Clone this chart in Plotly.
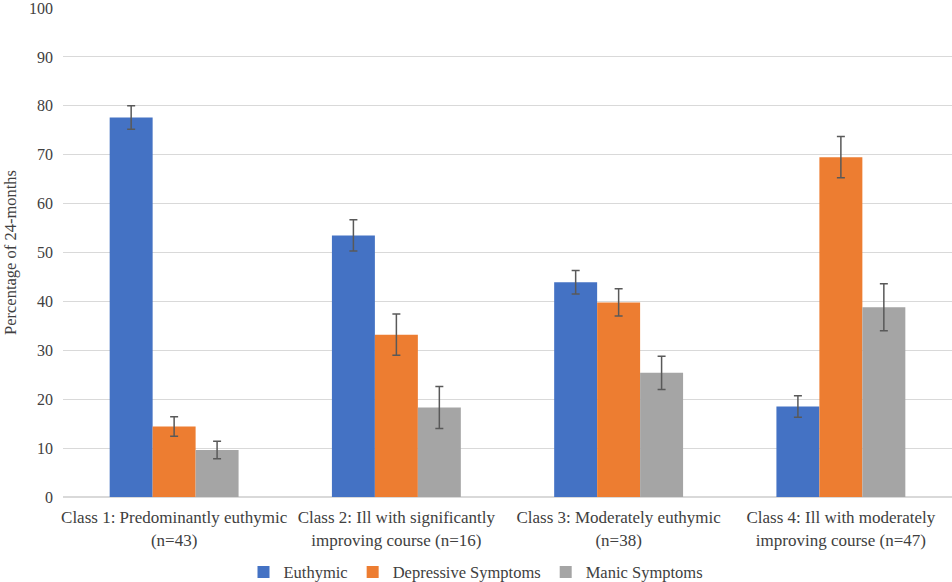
import plotly.graph_objects as go

categories = ["Class 1: Predominantly euthymic<br>(n=43)",
              "Class 2: Ill with significantly<br>improving course (n=16)",
              "Class 3: Moderately euthymic<br>(n=38)",
              "Class 4: Ill with moderately<br>improving course (n=47)"]
series_names = ["Euthymic", "Depressive Symptoms", "Manic Symptoms"]
euthymic = [77.6, 53.5, 43.9, 18.5]
euthymic_err = [2.4, 3.2, 2.4, 2.2]
depressive = [14.4, 33.2, 39.8, 69.5]
depressive_err = [2.0, 4.2, 2.8, 4.2]
manic = [9.6, 18.3, 25.4, 38.8]
manic_err = [1.8, 4.3, 3.4, 4.8]
colors = ["#4472C4", "#ED7D31", "#A5A5A5"]
yticks = list(range(0, 101, 10))

fig = go.Figure()
for name, vals, errs, col in zip(series_names, [euthymic, depressive, manic],
                                 [euthymic_err, depressive_err, manic_err], colors):
    fig.add_trace(go.Bar(
        x=categories, y=vals, name=name,
        marker=dict(color=col, line=dict(width=0)),
        error_y=dict(type="data", array=errs, visible=True, color="#595959",
                     thickness=1.5, width=4),
    ))

ff = "Liberation Serif"
fig.update_layout(
    width=952, height=582,
    barmode="group", bargap=0.42, bargroupgap=0,
    plot_bgcolor="white", paper_bgcolor="white",
    margin=dict(l=63, r=0, t=8, b=85, autoexpand=False),
    font=dict(family=ff, size=16, color="#404040"),
    legend=dict(orientation="h", xref="container", x=0.5, xanchor="center",
                y=-0.118, yanchor="top",
                font=dict(family="Times New Roman, Liberation Serif, serif", size=16.5, color="#404040"),
                traceorder="normal", itemwidth=30),
    showlegend=True,
)
fig.update_yaxes(range=[0, 100], tickvals=yticks, showgrid=True, gridcolor="#D9D9D9",
                 gridwidth=1, zeroline=True, zerolinecolor="#D9D9D9", showline=False,
                 ticks="", ticklabelstandoff=9, automargin=False, ticklabeloverflow="allow",
                 title=dict(text="Percentage of 24-months", font=dict(family=ff, size=16.5, color="#404040"),
                            standoff=8),
                 tickfont=dict(family=ff, size=16, color="#404040"))
fig.update_xaxes(showline=True, linecolor="#D9D9D9", ticks="", automargin=False,
                 ticklabelstandoff=5,
                 tickfont=dict(family=ff, size=17, color="#404040"))

fig.write_html("out.html", config={"displayModeBar": False},
               post_script="document.body.style.margin='0';document.body.style.overflow='hidden';")
